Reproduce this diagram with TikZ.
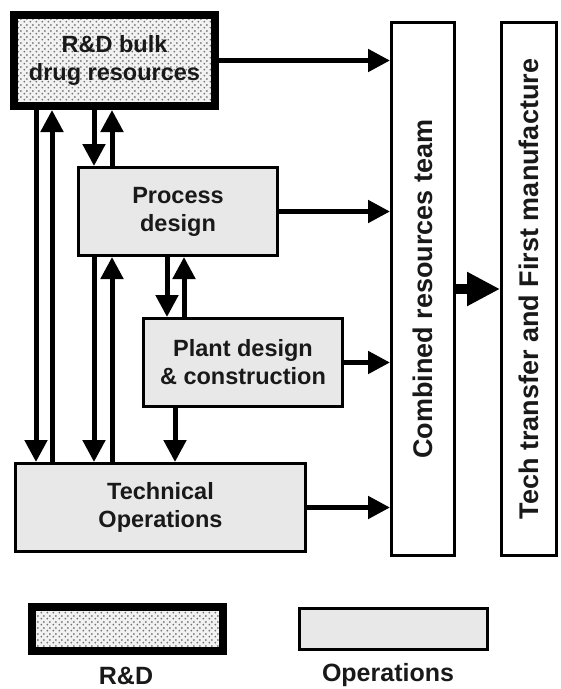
\documentclass[tikz,border=0pt]{standalone}
\usepackage{fontspec}
\setmainfont{Liberation Sans}
\usetikzlibrary{arrows.meta,patterns.meta}

% stipple used for the R&D fill
\tikzdeclarepattern{
  name=stipple,
  type=uncolored,
  bounding box={(0pt,0pt) and (5.6pt,5.6pt)},
  tile size={(5.6pt,5.6pt)},
  code={
    \fill (1.4pt,1.4pt) circle [radius=1.05pt];
    \fill (4.2pt,4.2pt) circle [radius=1.05pt];
  }
}

\tikzset{
  boxtext/.style={font=\bfseries\fontsize{23.5}{28}\selectfont, align=center, text=black!90},
  rdbox/.style={draw=black, line width=8pt, preaction={fill=black!5},
    pattern=stipple, pattern color=black!55, inner sep=0pt, boxtext},
  opsbox/.style={draw=black, line width=3pt, fill=black!9, inner sep=0pt, boxtext},
  tallbox/.style={draw=black, line width=3pt, fill=white, inner sep=0pt},
  talltext/.style={font=\bfseries\fontsize{27}{32}\selectfont, rotate=90, text=black!90},
  arr/.style={line width=5pt, -{Triangle[length=22pt,width=22pt]}},
  bigarr/.style={line width=10pt, -{Triangle[length=33pt,width=32pt]}},
  legendtext/.style={font=\bfseries\fontsize{25}{30}\selectfont, anchor=base, text=black!90}
}

\begin{document}
\begin{tikzpicture}[x=1pt,y=-1pt]
  \useasboundingbox (0,0) rectangle (561,689);

  % main blocks
  \node[rdbox, minimum width=201pt, minimum height=91pt] (rd) at (114.5,60.5)
    {R\&D bulk\\drug resources};
  \node[opsbox, minimum width=199pt, minimum height=88pt] (proc) at (178,211.5)
    {Process\\design};
  \node[opsbox, minimum width=199pt, minimum height=88pt] (plant) at (243,362.5)
    {Plant design\\\& construction};
  \node[opsbox, minimum width=290pt, minimum height=88pt] (tops) at (160.5,507.5)
    {Technical\\Operations};

  % the two tall columns on the right
  \node[tallbox, minimum width=63pt, minimum height=533pt] (comb) at (423,289) {};
  \node[talltext] (combtxt) at (comb.center) {Combined resources team};
  \node[tallbox, minimum width=55pt, minimum height=533pt] (tt) at (529,289) {};
  \node[talltext] (tttxt) at (tt.center) {Tech transfer and First manufacture};

  % columns of the vertical connectors
  \coordinate (c1) at (36,0);
  \coordinate (c2) at (52,0);
  \coordinate (c3) at (94,0);
  \coordinate (c4) at (112,0);
  \coordinate (c5) at (167,0);
  \coordinate (c6) at (184,0);
  \coordinate (c7) at (175,0);

  % R&D <-> Technical Operations
  \draw[arr] (c1 |- rd.south) -- (c1 |- tops.north);
  \draw[arr] (c2 |- tops.north) -- (c2 |- rd.south);
  % R&D <-> Process design
  \draw[arr] (c3 |- rd.south) -- (c3 |- proc.north);
  \draw[arr] (c4 |- proc.north) -- (c4 |- rd.south);
  % Process design <-> Technical Operations
  \draw[arr] (c3 |- proc.south) -- (c3 |- tops.north);
  \draw[arr] (c4 |- tops.north) -- (c4 |- proc.south);
  % Process design <-> Plant design
  \draw[arr] (c5 |- proc.south) -- (c5 |- plant.north);
  \draw[arr] (c6 |- plant.north) -- (c6 |- proc.south);
  % Plant design -> Technical Operations
  \draw[arr] (c7 |- plant.south) -- (c7 |- tops.north);

  % everything feeds the combined team
  \draw[arr] (rd.east) -- (rd.east -| comb.west);
  \draw[arr] (proc.east) -- (proc.east -| comb.west);
  \draw[arr] (plant.east) -- (plant.east -| comb.west);
  \draw[arr] (tops.east) -- (tops.east -| comb.west);
  \draw[bigarr] (comb.east) -- (tt.west);

  % legend
  \node[rdbox, minimum width=191pt, minimum height=44pt] (legrd) at (127.5,629) {};
  \node[opsbox, minimum width=188pt, minimum height=41pt] (legops) at (393.5,629) {};
  \node[legendtext] (lblrd) at (126,684) {R\&D};
  \node[legendtext] (lblops) at (388,681) {Operations};
\end{tikzpicture}
\end{document}
